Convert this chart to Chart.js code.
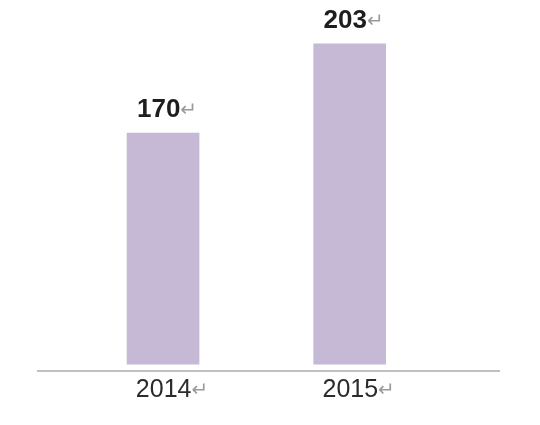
<!DOCTYPE html>
<html>
<head>
<meta charset="utf-8">
<script src="https://cdn.jsdelivr.net/npm/chart.js@4"></script>
<style>
html, body { margin: 0; padding: 0; background: #fff; }
#wrap { width: 540px; height: 425px; }
</style>
</head>
<body>
<div id="wrap"><canvas id="myChart"></canvas></div>
<script>
let years = [2014, 2015];
let values = [170, 203];
let yearLabels = ['2014', '2015'];

let barColor = '#c5b9d6';
let markChar = '\u21B5';
let markFont = '20px "DejaVu Sans"';

// text followed by a grey paragraph mark, centred on cx
function drawMarked(c, text, font, color, cx, baseline) {
    c.font = font;
    let w1 = c.measureText(text).width;
    c.font = markFont;
    let w2 = c.measureText(markChar).width;
    let x0 = cx - (w1 + w2) / 2;
    c.textAlign = 'left';
    c.textBaseline = 'alphabetic';
    c.font = font;
    c.fillStyle = color;
    c.fillText(text, x0, baseline);
    c.font = markFont;
    c.fillStyle = '#9a9a9a';
    c.fillText(markChar, x0 + w1, baseline - 1);
}

let paraMarks = {
    id: 'paraMarks',
    afterDatasetsDraw(chart) {
        let c = chart.ctx;
        let meta = chart.getDatasetMeta(0);
        let xScale = chart.scales.x;
        c.save();
        meta.data.forEach((bar, i) => {
            drawMarked(c, String(values[i]), 'bold 26px "Liberation Sans"', '#1e1e1e', bar.x + 4, bar.y - 16);
            drawMarked(c, yearLabels[i], '25px "Liberation Sans"', '#2b2b2b',
                xScale.getPixelForValue(years[i]) + 9, chart.chartArea.bottom + 26);
        });
        c.restore();
    }
};

let ctx = document.getElementById('myChart').getContext('2d');
let myChart = new Chart(ctx, {
    type: 'bar',
    data: {
        datasets: [{
            data: years.map((y, i) => ({ x: y, y: values[i] })),
            backgroundColor: barColor,
            barThickness: 72,
            base: 84.5
        }]
    },
    options: {
        responsive: true,
        maintainAspectRatio: false,
        animation: false,
        layout: {
            padding: { left: 38, right: 41, top: 10, bottom: 46 }
        },
        plugins: {
            legend: { display: false },
            tooltip: { enabled: false }
        },
        scales: {
            x: {
                type: 'linear',
                offset: false,
                min: 2013.33,
                max: 2015.8,
                grid: { display: false },
                ticks: { display: false },
                border: { color: '#c0c0c0', width: 2 }
            },
            y: {
                display: false,
                min: 82,
                max: 215.5
            }
        }
    },
    plugins: [paraMarks]
});
</script>
</body>
</html>
